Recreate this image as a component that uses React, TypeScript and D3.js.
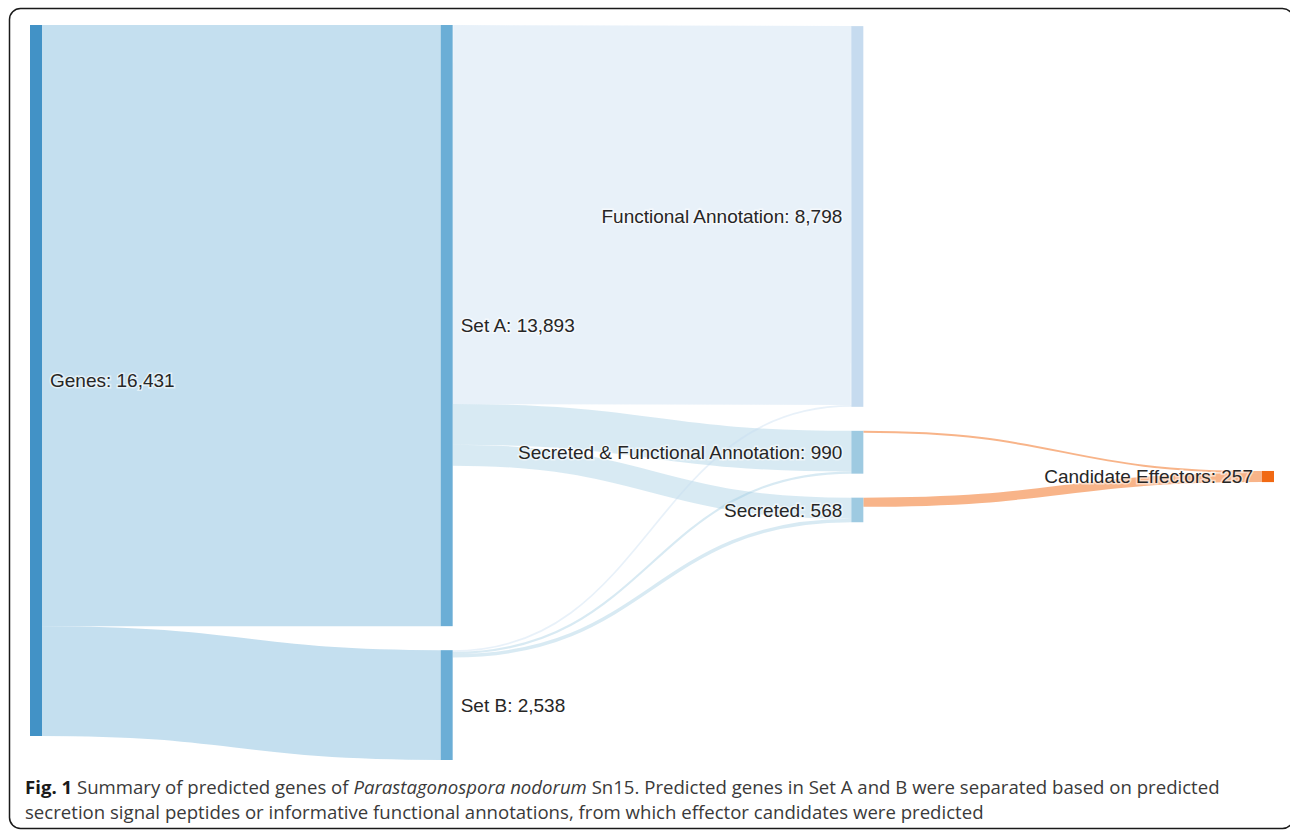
import React from 'react';
import * as d3 from 'd3';

// ---------- data ----------
const nodeNames = [
  'Genes',
  'Set A',
  'Set B',
  'Functional Annotation',
  'Secreted & Functional Annotation',
  'Secreted',
  'Candidate Effectors',
];
const nodeColumns = [0, 1, 1, 2, 2, 2, 3];
const nodeColors = ['#4292c6', '#6baed6', '#6baed6', '#c6dbef', '#9ecae1', '#9ecae1', '#f16913'];

const linkSources = [0, 0, 1, 1, 1, 2, 2, 2, 4, 5];
const linkTargets = [1, 2, 3, 4, 5, 3, 4, 5, 6, 6];
const linkValues = [13893, 2538, 8758, 940, 488, 40, 50, 80, 45, 212];

const captionBold = 'Fig. 1';
const captionPart1 = ' Summary of predicted genes of ';
const captionItalic = 'Parastagonospora nodorum';
const captionPart2 = ' Sn15. Predicted genes in Set A and B were separated based on predicted';
const captionLine2 =
  'secretion signal peptides or informative functional annotations, from which effector candidates were predicted';

// ---------- layout constants ----------
const W = 1290;
const H = 831;
const TOP = 25;
const BOTTOM = 760;
const PAD = 24;
const NODE_W = 12;
const X_LEFT = 30;
const X_RIGHT = 1262;

type N = {
  i: number; name: string; col: number; color: string; value: number;
  x0: number; x1: number; y0: number; y1: number;
  inL: L[]; outL: L[];
};
type L = { s: N; t: N; value: number; w: number; sy: number; ty: number };

function layout() {
  const nodes: N[] = nodeNames.map((name, i) => ({
    i, name, col: nodeColumns[i], color: nodeColors[i], value: 0,
    x0: 0, x1: 0, y0: 0, y1: 0, inL: [], outL: [],
  }));
  const links: L[] = linkValues.map((v, k) => {
    const l: L = { s: nodes[linkSources[k]], t: nodes[linkTargets[k]], value: v, w: 0, sy: 0, ty: 0 };
    l.s.outL.push(l);
    l.t.inL.push(l);
    return l;
  });
  nodes.forEach((n) => {
    n.value = Math.max(d3.sum(n.inL, (l) => l.value), d3.sum(n.outL, (l) => l.value));
  });
  const nCols = (d3.max(nodeColumns) as number) + 1;
  const x = d3.scaleLinear().domain([0, nCols - 1]).range([X_LEFT, X_RIGHT]);
  const cols = d3.range(nCols).map((c) => nodes.filter((n) => n.col === c));
  const ky = d3.min(cols, (col) => (BOTTOM - TOP - (col.length - 1) * PAD) / d3.sum(col, (n) => n.value)) as number;
  const y = (v: number) => v * ky;

  nodes.forEach((n) => {
    n.x0 = x(n.col);
    n.x1 = n.x0 + NODE_W;
  });
  links.forEach((l) => (l.w = y(l.value)));

  const computeSourceOffsets = (n: N) => {
    let off = n.y0;
    n.outL.forEach((l) => {
      l.sy = off + l.w / 2;
      off += l.w;
    });
  };

  cols.forEach((col, c) => {
    if (c <= 1) {
      let yy = TOP;
      col.forEach((n) => {
        n.y0 = yy;
        n.y1 = yy + y(n.value);
        yy = n.y1 + PAD;
      });
    } else if (c === nCols - 1) {
      // last column: centred on the extent of its source nodes
      col.forEach((n) => {
        const srcs = n.inL.map((l) => l.s);
        const mid = ((d3.min(srcs, (s) => s.y0) as number) + (d3.max(srcs, (s) => s.y1) as number)) / 2;
        n.y0 = mid - y(n.value) / 2;
        n.y1 = n.y0 + y(n.value);
      });
    } else {
      // relax toward straight incoming links, then resolve collisions
      let minY = TOP;
      col.forEach((n) => {
        let off = 0;
        let acc = 0;
        n.inL.forEach((l) => {
          acc += (l.sy - l.w / 2 - off) * l.value;
          off += l.w;
        });
        let y0 = acc / d3.sum(n.inL, (l) => l.value);
        y0 = Math.max(y0, minY);
        n.y0 = y0;
        n.y1 = y0 + y(n.value);
        minY = n.y1 + PAD;
      });
    }
    col.forEach(computeSourceOffsets);
  });

  nodes.forEach((n) => {
    const ins = [...n.inL].sort((a, b) => a.s.y0 - b.s.y0);
    let off = n.y0;
    ins.forEach((l) => {
      l.ty = off + l.w / 2;
      off += l.w;
    });
  });
  return { nodes, links, nCols };
}

export default function App() {
  const { nodes, links, nCols } = layout();
  const linkGen = d3.linkHorizontal();
  const fmt = d3.format(',');
  const labelFont = '"Liberation Sans", Arial, Helvetica, sans-serif';
  const captionFont = '"Open Sans", "Noto Sans", sans-serif';

  return (
    <svg width={W} height={H} style={{ position: 'absolute', left: 0, top: 0, background: '#fff' }}>
      <rect x={9.5} y={8.5} width={1284} height={820} rx={11} fill="none" stroke="#1a1a1a" strokeWidth={1.5} />
      <g>
        {links.map((l, k) => {
          const orange = l.t.col === nCols - 1;
          return (
            <path
              key={k}
              d={linkGen({ source: [l.s.x1, l.sy], target: [l.t.x0, l.ty] }) as string}
              fill="none"
              stroke={l.t.color}
              strokeOpacity={orange ? 0.5 : 0.4}
              strokeWidth={Math.max(1, l.w)}
            />
          );
        })}
      </g>
      <g>
        {nodes.map((n) => (
          <rect key={n.i} x={n.x0} y={n.y0} width={n.x1 - n.x0} height={n.y1 - n.y0} fill={n.color} />
        ))}
      </g>
      <g fontFamily={labelFont} fontSize={19} fill="#262626">
        {nodes.map((n) => {
          const left = n.col < 2;
          return (
            <text
              key={n.i}
              x={left ? n.x1 + 8 : n.x0 - 9}
              y={(n.y0 + n.y1) / 2}
              dy="0.35em"
              textAnchor={left ? 'start' : 'end'}
              stroke="#fff"
              strokeOpacity={0.55}
              strokeWidth={3}
              paintOrder="stroke"
            >
              {`${n.name}: ${fmt(n.value)}`}
            </text>
          );
        })}
      </g>
      <g fontFamily={captionFont} fontSize={18.6} fill="#3a3a3a">
        <text x={25} y={794}>
          <tspan fontWeight="bold" fill="#1a1a1a">{captionBold}</tspan>
          <tspan>{captionPart1}</tspan>
          <tspan fontStyle="italic">{captionItalic}</tspan>
          <tspan>{captionPart2}</tspan>
        </text>
        <text x={25} y={819}>{captionLine2}</text>
      </g>
    </svg>
  );
}
